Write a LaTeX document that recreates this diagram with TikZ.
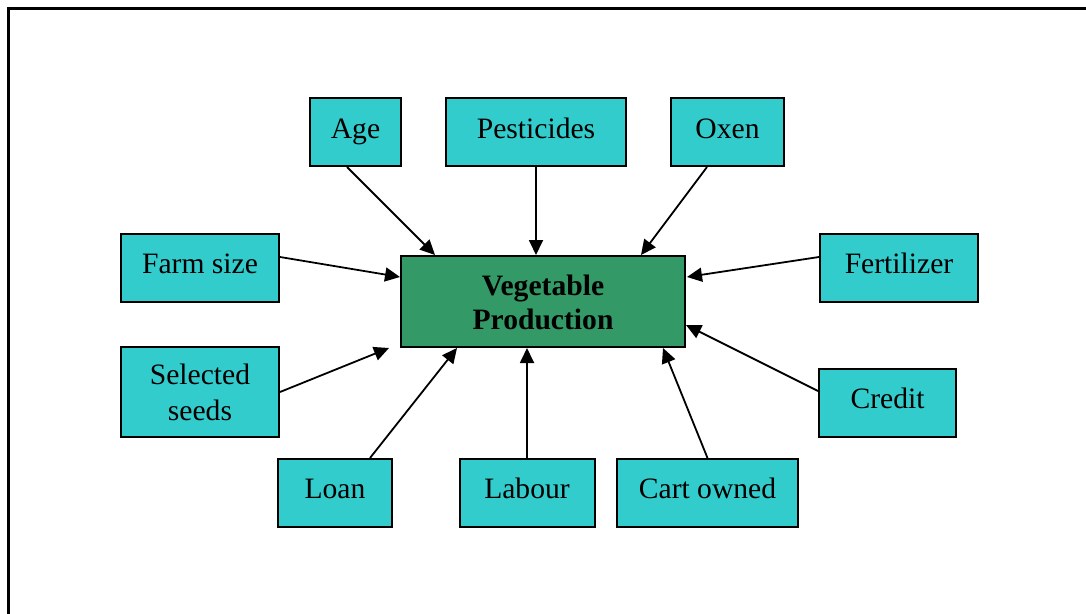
\documentclass[tikz,border=0pt]{standalone}
\usepackage{fontspec}
\setmainfont{Liberation Serif}
\usetikzlibrary{arrows.meta}
\definecolor{boxcyan}{HTML}{33CCCC}
\definecolor{boxgreen}{HTML}{339966}
\tikzset{
  factor/.style={draw=black, line width=2pt, fill=boxcyan, inner sep=0pt, minimum height=68pt},
  central/.style={draw=black, line width=2pt, fill=boxgreen, inner sep=0pt, minimum width=284pt, minimum height=91pt},
  lbl/.style={anchor=base, inner sep=0pt, font=\fontsize{29.6pt}{35.5pt}\selectfont},
  boldlbl/.style={lbl, font=\fontsize{29.6pt}{35.5pt}\selectfont\bfseries},
  arr/.style={line width=1.8pt, -{Triangle[length=15pt, width=14pt]}},
  frame/.style={line width=3pt, draw=black}
}
\begin{document}
\begin{tikzpicture}[x=1pt, y=-1pt]
\useasboundingbox (0,0) rectangle (1086,613);
\clip (0,0) rectangle (1086,613);
\coordinate (fbl) at (8,640);
\coordinate (ftl) at (8,8);
\coordinate (ftr) at (1110,8);
\draw[frame] (fbl) -- (ftl) -- (ftr);

% boxes
\node[central] (veg) at (543,301.5) {};
\node[factor, minimum width=91pt] (age) at (355.5,132) {};
\node[factor, minimum width=180pt] (pest) at (536,132) {};
\node[factor, minimum width=113pt] (oxen) at (727.5,132) {};
\node[factor, minimum width=158pt] (farm) at (200,268) {};
\node[factor, minimum width=158pt] (fert) at (899,268) {};
\node[factor, minimum width=158pt, minimum height=90pt] (seeds) at (200,392) {};
\node[factor, minimum width=137pt] (credit) at (887.5,403) {};
\node[factor, minimum width=114pt] (loan) at (335,493) {};
\node[factor, minimum width=135pt] (labour) at (527,493) {};
\node[factor, minimum width=181pt] (cart) at (707.5,493) {};

% labels
\node[boldlbl] (vegA) at ([yshift=6.5pt]veg.center) {Vegetable};
\node[boldlbl] (vegB) at ([yshift=-28.3pt]veg.center) {Production};
\node[lbl] (ageT) at ([yshift=-6pt]age.center) {Age};
\node[lbl] (pestT) at ([yshift=-6pt]pest.center) {Pesticides};
\node[lbl] (oxenT) at ([yshift=-6pt]oxen.center) {Oxen};
\node[lbl] (farmT) at ([yshift=-5pt]farm.center) {Farm size};
\node[lbl] (fertT) at ([yshift=-5pt]fert.center) {Fertilizer};
\node[lbl] (seedsA) at ([yshift=7.5pt]seeds.center) {Selected};
\node[lbl] (seedsB) at ([yshift=-28pt]seeds.center) {seeds};
\node[lbl] (creditT) at ([yshift=-5pt]credit.center) {Credit};
\node[lbl] (loanT) at ([yshift=-5pt]loan.center) {Loan};
\node[lbl] (labourT) at ([yshift=-5pt]labour.center) {Labour};
\node[lbl] (cartT) at ([yshift=-5pt]cart.center) {Cart owned};

% connectors
\draw[arr] ([xshift=-8.5pt]age.south) -- ([xshift=35pt]veg.north west);
\draw[arr] (pest.south) -- ([xshift=-7pt]veg.north);
\draw[arr] ([xshift=-20.5pt]oxen.south) -- ([xshift=-45pt]veg.north east);
\draw[arr] ([yshift=11pt]farm.east) -- ([yshift=-22pt]veg.north west);
\draw[arr] (seeds.east) -- ([xshift=-11pt]veg.south west);
\draw[arr] ([xshift=35pt]loan.north) -- ([xshift=57pt]veg.south west);
\draw[arr] (labour.north) -- ([xshift=-16pt]veg.south);
\draw[arr] (cart.north) -- ([xshift=-23pt]veg.south east);
\draw[arr] ([yshift=12pt]credit.west) -- ([yshift=-23.5pt]veg.east);
\draw[arr] ([yshift=11pt]fert.west) -- ([xshift=1pt, yshift=-22pt]veg.north east);
\end{tikzpicture}
\end{document}
